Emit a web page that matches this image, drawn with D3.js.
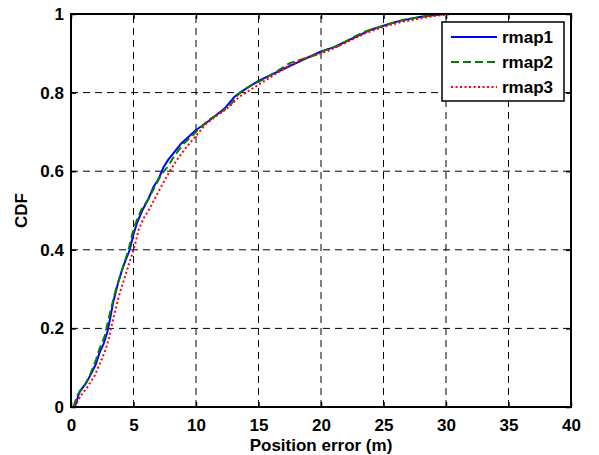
<!DOCTYPE html>
<html>
<head>
<meta charset="utf-8">
<script src="https://cdn.jsdelivr.net/npm/d3@7"></script>
<style>
  body { margin: 0; background: #fff; }
  text { font-family: Arial, "Liberation Sans", sans-serif; font-weight: bold; }
</style>
</head>
<body>
<script>
var width = 599, height = 455;
var margin = {left: 71, top: 14, right: 28, bottom: 48};

// x = position error (m), y = CDF
var rmap1X = [0.3, 0.7, 1.2, 1.7, 2.0, 2.3, 2.6, 2.9, 3.1, 3.4, 3.8, 4.2, 4.7, 5.0, 5.3, 5.7, 6.2, 6.6, 7.0, 7.4, 7.8, 8.3, 8.8, 9.5, 10, 10.7, 11.5, 12.3, 13.1, 14, 15, 16, 17, 18, 19, 20, 21, 22, 23, 24, 25, 26, 27, 28, 29, 30, 33];
var rmap1Y = [0, 0.04, 0.06, 0.09, 0.11, 0.14, 0.16, 0.19, 0.22, 0.27, 0.32, 0.36, 0.40, 0.44, 0.47, 0.50, 0.53, 0.56, 0.58, 0.61, 0.63, 0.65, 0.67, 0.69, 0.705, 0.72, 0.74, 0.76, 0.79, 0.81, 0.83, 0.845, 0.86, 0.875, 0.89, 0.905, 0.915, 0.93, 0.945, 0.96, 0.97, 0.98, 0.987, 0.993, 0.997, 1, 1];

var rmap2X = [0.2, 0.5, 1.0, 1.5, 2.0, 2.3, 2.7, 2.9, 3.2, 3.6, 4.1, 4.6, 4.9, 5.2, 5.6, 6.2, 6.7, 7.2, 7.7, 8.3, 9.0, 9.7, 10.3, 11, 12, 12.8, 13.5, 14.5, 15.5, 16.5, 17.5, 18.5, 19.5, 20.5, 21.5, 22.5, 23.5, 24.5, 25.5, 26.5, 27.5, 28.5, 29.5, 36];
var rmap2Y = [0, 0.03, 0.05, 0.08, 0.12, 0.15, 0.18, 0.21, 0.25, 0.30, 0.35, 0.40, 0.44, 0.47, 0.50, 0.53, 0.56, 0.59, 0.61, 0.64, 0.67, 0.69, 0.71, 0.73, 0.75, 0.77, 0.80, 0.82, 0.835, 0.855, 0.875, 0.885, 0.895, 0.91, 0.92, 0.94, 0.955, 0.965, 0.975, 0.985, 0.99, 0.995, 1, 1];

var rmap3X = [0.3, 0.8, 1.3, 1.9, 2.3, 2.7, 3.0, 3.2, 3.5, 3.9, 4.4, 4.8, 5.1, 5.4, 5.8, 6.2, 6.7, 7.2, 7.9, 8.5, 9.2, 10, 10.8, 11.6, 12.5, 13.5, 14.5, 15.5, 16.5, 17.5, 18.5, 19.5, 20.5, 21.5, 22.5, 23.5, 24.5, 25.5, 26.5, 27.5, 28.5, 29.5, 30.5, 31];
var rmap3Y = [0, 0.03, 0.05, 0.08, 0.11, 0.14, 0.17, 0.20, 0.24, 0.29, 0.34, 0.38, 0.41, 0.45, 0.48, 0.50, 0.53, 0.56, 0.60, 0.63, 0.66, 0.69, 0.72, 0.74, 0.76, 0.79, 0.81, 0.83, 0.85, 0.87, 0.885, 0.895, 0.905, 0.92, 0.935, 0.95, 0.962, 0.972, 0.98, 0.986, 0.992, 0.997, 1, 1];

var xTicks = [0, 5, 10, 15, 20, 25, 30, 35, 40];
var yTicks = [0, 0.2, 0.4, 0.6, 0.8, 1];
var seriesNames = ['rmap1', 'rmap2', 'rmap3'];

var series = [
  {name: seriesNames[0], xs: rmap1X, ys: rmap1Y, color: '#0000ff', dash: null},
  {name: seriesNames[1], xs: rmap2X, ys: rmap2Y, color: '#008000', dash: '8,4'},
  {name: seriesNames[2], xs: rmap3X, ys: rmap3Y, color: '#ff0000', dash: '2,2.5'}
];

var svg = d3.select('body').append('svg')
    .attr('width', width)
    .attr('height', height);

var x = d3.scaleLinear().domain([0, 40]).range([margin.left, width - margin.right]);
var y = d3.scaleLinear().domain([0, 1]).range([height - margin.bottom, margin.top]);

// grid
svg.append('g').selectAll('line.gx')
    .data(xTicks.slice(1, -1))
    .enter().append('line')
    .attr('x1', d => x(d)).attr('x2', d => x(d))
    .attr('y1', y(0)).attr('y2', y(1))
    .attr('stroke', '#000').attr('stroke-width', 1)
    .attr('stroke-dasharray', '7,5');
svg.append('g').selectAll('line.gy')
    .data(yTicks.slice(1, -1))
    .enter().append('line')
    .attr('x1', x(0)).attr('x2', x(40))
    .attr('y1', d => y(d)).attr('y2', d => y(d))
    .attr('stroke', '#000').attr('stroke-width', 1)
    .attr('stroke-dasharray', '7,5');

// axes with inward ticks
svg.append('g')
    .attr('transform', 'translate(0,' + y(0) + ')')
    .call(d3.axisBottom(x).tickValues(xTicks).tickSize(-5).tickPadding(12).tickFormat(d3.format('d')));
svg.append('g')
    .attr('transform', 'translate(' + x(0) + ',0)')
    .call(d3.axisLeft(y).tickValues(yTicks).tickSize(-5).tickPadding(7).tickFormat(d => d === 0 || d === 1 ? d : d.toFixed(1)));
svg.append('g')
    .attr('transform', 'translate(0,' + y(1) + ')')
    .call(d3.axisTop(x).tickValues(xTicks).tickSize(-5).tickFormat(''));
svg.append('g')
    .attr('transform', 'translate(' + x(40) + ',0)')
    .call(d3.axisRight(y).tickValues(yTicks).tickSize(-5).tickFormat(''));

svg.selectAll('.domain').remove();
svg.selectAll('.tick line').attr('stroke', '#000').attr('stroke-width', 1.5);
svg.selectAll('.tick text')
    .attr('font-size', 17)
    .attr('font-weight', 'bold')
    .attr('fill', '#000')
    .attr('font-family', 'Arial, "Liberation Sans", sans-serif');

// curves
var line = d3.line().x(d => x(d[0])).y(d => y(d[1]));
series.forEach(function (s) {
  svg.append('path')
      .datum(s.xs.map((v, i) => [v, s.ys[i]]))
      .attr('d', line)
      .attr('fill', 'none')
      .attr('stroke', s.color)
      .attr('stroke-width', 2)
      .attr('stroke-dasharray', s.dash);
});

// box
svg.append('rect')
    .attr('x', x(0)).attr('y', y(1))
    .attr('width', x(40) - x(0)).attr('height', y(0) - y(1))
    .attr('fill', 'none').attr('stroke', '#000').attr('stroke-width', 2);

// axis labels
svg.append('text')
    .attr('x', (x(0) + x(40)) / 2).attr('y', 451)
    .attr('text-anchor', 'middle').attr('font-size', 17)
    .text('Position error (m)');
svg.append('text')
    .attr('transform', 'translate(27,' + y(0.5) + ') rotate(-90)')
    .attr('text-anchor', 'middle').attr('font-size', 17)
    .text('CDF');

// legend
var legend = svg.append('g');
legend.append('rect')
    .attr('x', 442).attr('y', 22).attr('width', 122).attr('height', 79)
    .attr('fill', '#fff').attr('stroke', '#000').attr('stroke-width', 1.5);
series.forEach(function (s, i) {
  var ly = 37 + i * 25;
  legend.append('line')
      .attr('x1', 451).attr('x2', 497).attr('y1', ly).attr('y2', ly)
      .attr('stroke', s.color).attr('stroke-width', 2)
      .attr('stroke-dasharray', s.dash);
  legend.append('text')
      .attr('x', 502).attr('y', ly).attr('dy', '0.35em')
      .attr('font-size', 17)
      .text(s.name);
});
</script>
</body>
</html>
